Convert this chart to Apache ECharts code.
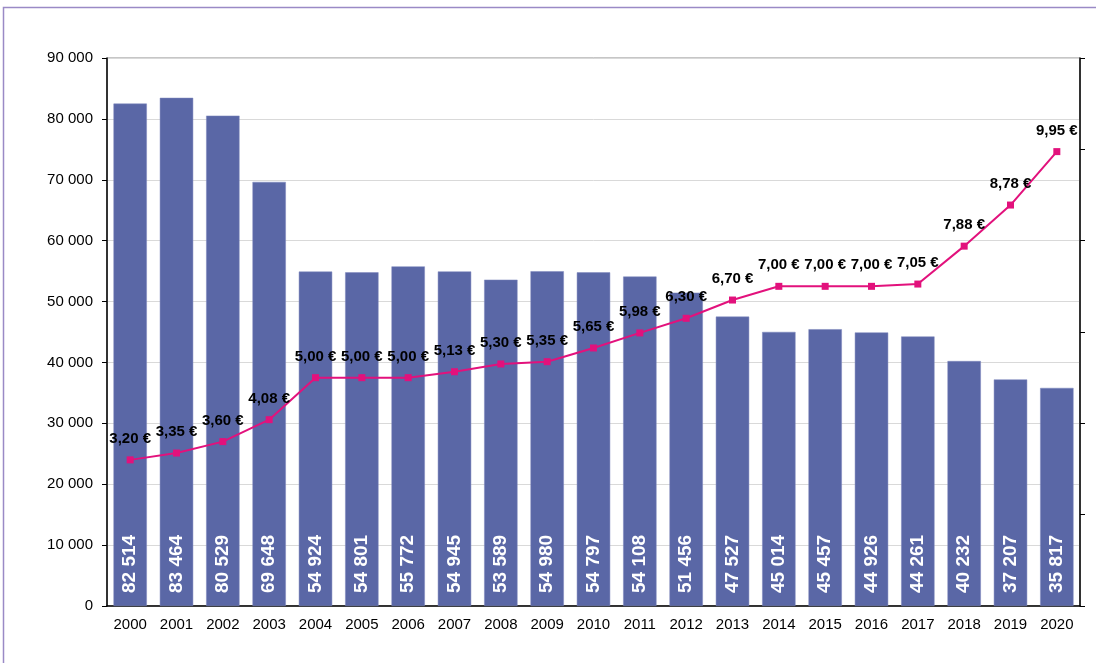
<!DOCTYPE html>
<html>
<head>
<meta charset="utf-8">
<script src="https://cdn.jsdelivr.net/npm/echarts@6/dist/echarts.min.js"></script>
<style>
  html, body { margin: 0; padding: 0; background: #fff; }
  #chart { width: 1096px; height: 663px; }
</style>
</head>
<body>
<div id="chart"></div>
<script>
const years = ['2000','2001','2002','2003','2004','2005','2006','2007','2008','2009','2010',
  '2011','2012','2013','2014','2015','2016','2017','2018','2019','2020'];
const counts = [82514, 83464, 80529, 69648, 54924, 54801, 55772, 54945, 53589, 54980, 54797,
  54108, 51456, 47527, 45014, 45457, 44926, 44261, 40232, 37207, 35817];
const prices = [3.20, 3.35, 3.60, 4.08, 5.00, 5.00, 5.00, 5.13, 5.30, 5.35, 5.65,
  5.98, 6.30, 6.70, 7.00, 7.00, 7.00, 7.05, 7.88, 8.78, 9.95];

const font = 'Liberation Sans, Arial, sans-serif';
const spaced = (v) => String(v).replace(/\B(?=(\d{3})+(?!\d))/g, ' ');

const chart = echarts.init(document.getElementById('chart'));
chart.setOption({
  backgroundColor: '#fff',
  animation: false,
  textStyle: { fontFamily: font },
  graphic: [{
    type: 'rect',
    shape: { x: 3.5, y: 7.5, width: 1200, height: 700 },
    style: { fill: null, stroke: '#9a8ac6', lineWidth: 1.5 }
  }],
  grid: {
    left: 107, right: 16, top: 58, bottom: 57,
    show: true, borderColor: '#8c8c8c', borderWidth: 1
  },
  xAxis: {
    type: 'category',
    data: years,
    axisLine: { lineStyle: { color: '#000', width: 1.5 } },
    axisTick: { length: 6, lineStyle: { color: '#000' } },
    axisLabel: { color: '#000', fontSize: 15, margin: 11, fontFamily: font }
  },
  yAxis: [{
    type: 'value',
    min: 0, max: 90000, interval: 10000,
    axisLine: { show: true, lineStyle: { color: '#000', width: 1.5 } },
    axisTick: { show: true, length: 5, lineStyle: { color: '#000' } },
    axisLabel: { color: '#000', fontSize: 15, margin: 14, fontFamily: font, formatter: spaced },
    splitLine: { lineStyle: { color: '#d9d9d9' } }
  }, {
    type: 'value',
    min: 0, max: 12, interval: 2,
    position: 'right',
    axisLine: { show: true, lineStyle: { color: '#000', width: 1.5 } },
    axisTick: { show: true, length: 5, lineStyle: { color: '#000' } },
    axisLabel: { show: false },
    splitLine: { show: false }
  }],
  series: [{
    type: 'bar',
    data: counts,
    barCategoryGap: '28%',
    itemStyle: { color: '#5a67a6', borderColor: '#7c86bd', borderWidth: 0.5 },
    label: {
      show: true,
      position: 'insideBottom',
      rotate: 90,
      align: 'left',
      verticalAlign: 'middle',
      distance: 13,
      color: '#fff',
      fontWeight: 'bold',
      fontSize: 19,
      fontFamily: font,
      formatter: (p) => spaced(p.value)
    }
  }, {
    type: 'line',
    yAxisIndex: 1,
    data: prices,
    symbol: 'rect',
    symbolSize: 7,
    lineStyle: { color: '#e2117c', width: 2 },
    itemStyle: { color: '#e2117c' },
    label: {
      show: true,
      position: 'top',
      distance: 10,
      color: '#000',
      fontWeight: 'bold',
      fontSize: 15,
      fontFamily: font,
      formatter: (p) => p.value.toFixed(2).replace('.', ',') + ' €'
    },
    labelLayout: { hideOverlap: false }
  }]
});
</script>
</body>
</html>
